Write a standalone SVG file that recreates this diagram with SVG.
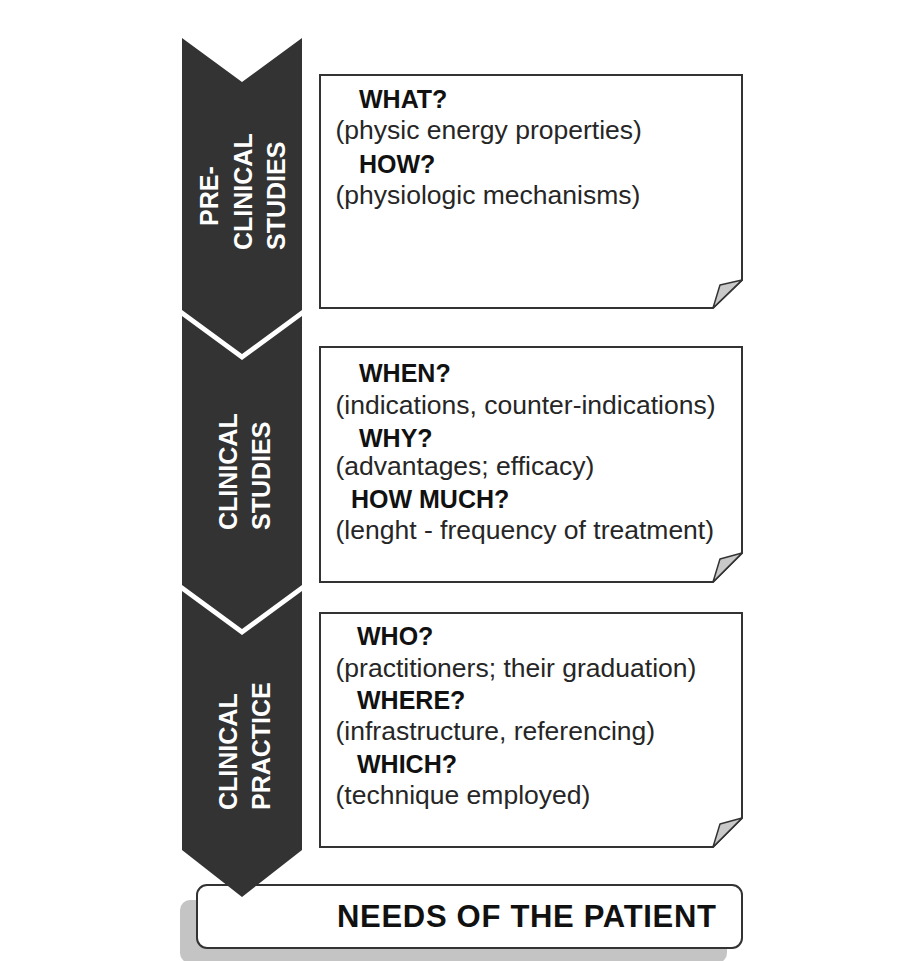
<svg xmlns="http://www.w3.org/2000/svg" width="915" height="961" viewBox="0 0 915 961">
<style>
.chev{fill:#333333}
.ct{font-family:"Liberation Sans",Arial,sans-serif;font-weight:bold;font-size:25px;fill:#ffffff}
.note{fill:#ffffff;stroke:#333333;stroke-width:2;stroke-linejoin:miter}
.fold{fill:#c9c9c9;stroke:#333333;stroke-width:1.5;stroke-linejoin:round}
.q{font-family:"Liberation Sans",Arial,sans-serif;font-weight:bold;font-size:25px;fill:#111111}
.d{font-family:"Liberation Sans",Arial,sans-serif;font-size:26.5px;fill:#262626}
.need{font-family:"Liberation Sans",Arial,sans-serif;font-weight:bold;font-size:31px;fill:#111111}
</style>
<rect width="915" height="961" fill="#ffffff"/>
<g id="patient">
<rect x="180" y="900" width="547" height="63" rx="10" fill="#c4c4c4"/>
<rect x="197" y="885" width="545" height="63" rx="10" class="note"/>
<text class="need" x="337" y="927" textLength="379" lengthAdjust="spacing">NEEDS OF THE PATIENT</text>
</g>
<g id="connectors"></g>
<g id="preclinical">
<polygon class="chev" points="182,38 242,82 302,38 302,310 242,354 182,310"/>
<text class="ct" transform="translate(218,226) rotate(-90)">PRE-</text>
<text class="ct" transform="translate(252,250) rotate(-90)">CLINICAL</text>
<text class="ct" transform="translate(285,250) rotate(-90)">STUDIES</text>
</g>
<g id="clinical-studies">
<polygon class="chev" points="182,316 242,360 302,316 302,585 242,629 182,585"/>
<text class="ct" transform="translate(237,530) rotate(-90)">CLINICAL</text>
<text class="ct" transform="translate(270,530) rotate(-90)">STUDIES</text>
</g>
<g id="clinical-practice">
<polygon class="chev" points="182,591 242,635 302,591 302,850 242,897 182,850"/>
<text class="ct" transform="translate(237,810) rotate(-90)">CLINICAL</text>
<text class="ct" transform="translate(270,810) rotate(-90)">PRACTICE</text>
</g>
<g id="box-preclinical">
<path class="note" d="M320,75 H742 V280 L713,308 H320 Z"/>
<path class="fold" d="M713,308 L720,285 L742,280 Z"/>
<text class="q" x="359" y="108">WHAT?</text>
<text class="d" x="335.5" y="139">(physic energy properties)</text>
<text class="q" x="359" y="173">HOW?</text>
<text class="d" x="335.5" y="204">(physiologic mechanisms)</text>
</g>
<g id="box-clinical-studies">
<path class="note" d="M320,347 H742 V553 L713,582 H320 Z"/>
<path class="fold" d="M713,582 L720,559 L742,553 Z"/>
<text class="q" x="359" y="382">WHEN?</text>
<text class="d" x="335.5" y="414">(indications, counter-indications)</text>
<text class="q" x="359" y="447">WHY?</text>
<text class="d" x="335.5" y="475">(advantages; efficacy)</text>
<text class="q" x="351" y="508">HOW MUCH?</text>
<text class="d" x="335.5" y="539">(lenght - frequency of treatment)</text>
</g>
<g id="box-clinical-practice">
<path class="note" d="M320,613 H742 V818 L713,847 H320 Z"/>
<path class="fold" d="M713,847 L720,824 L742,818 Z"/>
<text class="q" x="357" y="645">WHO?</text>
<text class="d" x="335.5" y="677">(practitioners; their graduation)</text>
<text class="q" x="357" y="709">WHERE?</text>
<text class="d" x="335.5" y="740">(infrastructure, referencing)</text>
<text class="q" x="357" y="773">WHICH?</text>
<text class="d" x="335.5" y="804">(technique employed)</text>
</g>
</svg>
